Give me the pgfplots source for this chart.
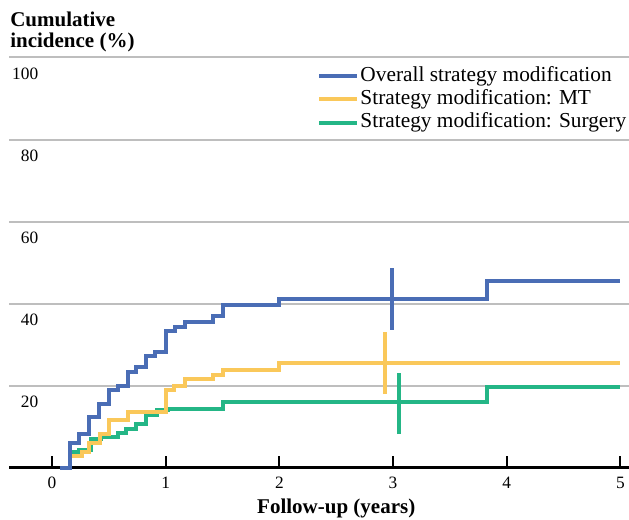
\documentclass[border=0pt]{standalone}
\usepackage{fontspec}
\setmainfont{Liberation Serif}
\usepackage{pgfplots}
\pgfplotsset{compat=1.18}
\definecolor{cblue}{RGB}{74,109,181}
\definecolor{cyellow}{RGB}{250,200,90}
\definecolor{cgreen}{RGB}{36,182,134}
\definecolor{cgrid}{RGB}{190,190,190}
\begin{document}
\begin{tikzpicture}
\begin{axis}[
  scale only axis,
  width=465pt, height=307.65pt,
  xmin=-0.378, xmax=5.075, ymin=0, ymax=100,
  clip=false,
  axis x line*=bottom, axis y line*=left,
  y axis line style={draw=none},
  x axis line style={black, line width=2pt},
  xtick={0,1,2,3,4,5},
  ytick={20,40,60,80,100},
  ytick style={draw=none},
  xtick style={black, line width=1.5pt},
  tick align=inside,
  major tick length=8.5pt,
  ymajorgrids,
  grid style={cgrid, line width=1.5pt},
  /pgf/number format/assume math mode=true,
  tick label style={font=\fontsize{13}{15}\selectfont},
  yticklabel style={anchor=north east, inner sep=0pt, xshift=22.1pt, yshift=-7.7pt},
  xticklabel style={anchor=north, inner sep=0pt, yshift=-6.75pt},
  legend style={at={(axis cs:2.33,98.2)}, anchor=north west, draw=none, fill=none,
    inner sep=0pt, row sep=1pt, font=\fontsize{16}{17}\selectfont,
    nodes={text height=11pt, text depth=3.5pt, inner sep=1pt, anchor=west}},
  legend cell align=left,
  legend image code/.code={\draw[#1, line width=3pt] (0pt,0pt) -- (28.5pt,0pt);},
  reverse legend,
]
\addplot[cgreen, line width=3pt, const plot] coordinates {
 (0.16,3.7) (0.24,4.3) (0.34,7.0) (0.43,7.5) (0.58,8.4) (0.65,9.4) (0.74,10.7)
 (0.83,12.9) (0.92,14.0) (1.02,14.4) (1.50,15.9) (3.83,19.7) (5.0,19.7)};
\addlegendentry{Strategy modification: Surgery}
\addplot[cyellow, line width=3pt, const plot] coordinates {
 (0.16,2.9) (0.26,3.7) (0.33,6.1) (0.42,8.3) (0.50,11.5) (0.67,13.6) (1.0,19.0)
 (1.07,20.0) (1.17,21.5) (1.42,22.6) (1.50,23.9) (2.0,25.4) (5.0,25.4)};
\addlegendentry{Strategy modification: MT}
\addplot[cblue, line width=3pt, const plot] coordinates {
 (0.07,0) (0.16,6.0) (0.24,8.2) (0.33,12.4) (0.41,15.6) (0.50,18.9) (0.58,20.0)
 (0.67,23.3) (0.74,24.5) (0.83,27.2) (0.91,28.2) (1.0,33.2) (1.08,34.4) (1.17,35.6)
 (1.42,37.0) (1.50,39.6) (2.0,41.2) (3.83,45.4) (5.0,45.4)};
\addlegendentry{Overall strategy modification}
\addplot[cblue, line width=3pt, forget plot] coordinates {(2.99,33.6) (2.99,48.7)};
\addplot[cyellow, line width=3pt, forget plot] coordinates {(2.93,17.9) (2.93,33.0)};
\addplot[cgreen, line width=3pt, forget plot] coordinates {(3.05,8.2) (3.05,23.1)};
\node[anchor=south west, inner sep=0pt, align=left, xshift=0.75pt, yshift=3.6pt,
  font=\bfseries\fontsize{15.75}{15.75}\selectfont] at (axis cs:-0.378,100)
  {Cumulative\\incidence (\%)};
\node[anchor=base, inner sep=0pt, yshift=-34.6pt,
  font=\bfseries\fontsize{15.75}{18}\selectfont] at (axis cs:2.5,0) {Follow-up (years)};
\end{axis}
\pgfresetboundingbox
\path[use as bounding box] ([xshift=-6.75pt,yshift=-38.5pt]current axis.south west)
  rectangle ([yshift=43.1pt]current axis.north east);
\end{tikzpicture}
\end{document}
